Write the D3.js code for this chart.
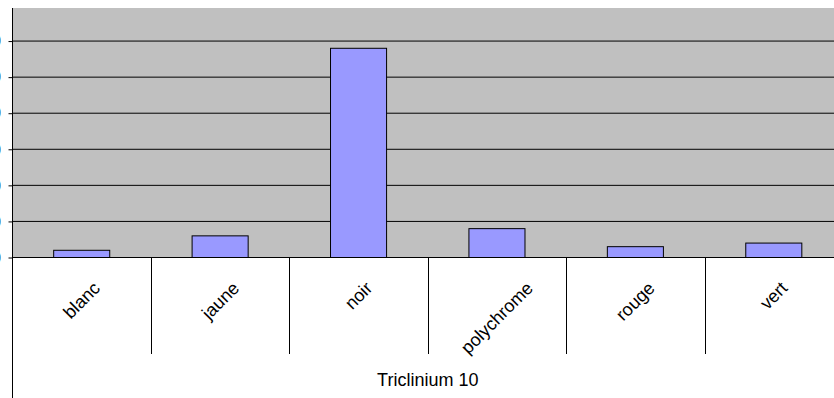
<!DOCTYPE html>
<html>
<head>
<meta charset="utf-8">
<script src="https://cdn.jsdelivr.net/npm/d3@7"></script>
<style>
  html, body { margin: 0; padding: 0; background: #fff; overflow: hidden; }
  svg { display: block; font-family: "Liberation Sans", Arial, sans-serif; }
</style>
</head>
<body>
<svg id="chart" width="834" height="398"></svg>
<script>
// ---- data ----
const categories = ["blanc", "jaune", "noir", "polychrome", "rouge", "vert"];
const values = [2, 6, 58, 8, 3, 4];
const yTicks = [0, 10, 20, 30, 40, 50, 60];
const groupLabel = "Triclinium 10";

// ---- layout ----
const W = 834, H = 398;
const plot = { left: 12.5, right: 843, top: 8, bottom: 257.5 };
const catBottom = 354;      // end of inner-level separators
const axisBottom = 398;     // end of left axis line
const fontSize = 18;

const svg = d3.select("#chart");

const x = d3.scaleBand()
  .domain(categories)
  .range([plot.left, plot.right])
  .paddingInner(0.595)
  .paddingOuter(0.2975);

const y = d3.scaleLinear()
  .domain([0, 70])
  .range([plot.bottom, 5]);

// plot background
svg.append("rect")
  .attr("x", plot.left).attr("y", plot.top)
  .attr("width", plot.right - plot.left)
  .attr("height", plot.bottom - plot.top)
  .attr("fill", "#C0C0C0");

// gridlines
svg.append("g")
  .selectAll("line")
  .data(yTicks.filter(d => d > 0))
  .join("line")
  .attr("x1", plot.left).attr("x2", plot.right)
  .attr("y1", d => y(d)).attr("y2", d => y(d))
  .attr("stroke", "#000").attr("stroke-width", 1);

// y axis (labels almost entirely outside the visible frame, as in the reference)
const yAxis = d3.axisLeft(y).tickValues(yTicks).tickSize(4).tickPadding(7.5);
const gy = svg.append("g")
  .attr("transform", `translate(${plot.left},0)`)
  .call(yAxis);
gy.select(".domain").remove();
gy.selectAll(".tick line").attr("stroke", "#000");
gy.selectAll(".tick text")
  .attr("font-size", fontSize)
  .attr("font-family", "'Liberation Sans', Arial, sans-serif")
  .attr("fill", "#000");

// bars
svg.append("g")
  .selectAll("rect")
  .data(categories.map((c, i) => ({ c, v: values[i] })))
  .join("rect")
  .attr("x", d => x(d.c))
  .attr("width", x.bandwidth())
  .attr("y", d => y(d.v))
  .attr("height", d => y(0) - y(d.v))
  .attr("fill", "#9999FF")
  .attr("stroke", "#000")
  .attr("stroke-width", 1);

// category axis line
svg.append("line")
  .attr("x1", plot.left).attr("x2", plot.right)
  .attr("y1", plot.bottom).attr("y2", plot.bottom)
  .attr("stroke", "#000");

// left axis line
svg.append("line")
  .attr("x1", plot.left).attr("x2", plot.left)
  .attr("y1", plot.top).attr("y2", axisBottom)
  .attr("stroke", "#000");

// category separators
const step = x.step();
const bounds = categories.slice(1).map(c => x(c) - x.paddingInner() * step / 2);
svg.append("g")
  .selectAll("line")
  .data(bounds)
  .join("line")
  .attr("x1", d => Math.round(d) + 0.5).attr("x2", d => Math.round(d) + 0.5)
  .attr("y1", plot.bottom).attr("y2", catBottom)
  .attr("stroke", "#000");

// rotated category labels, centred on category, top-aligned
const labelTop = 278;
const lg = svg.append("g");
categories.forEach(c => {
  const cx = x(c) + x.bandwidth() / 2;
  const t = lg.append("text")
    .attr("font-size", fontSize)
    .attr("text-anchor", "end")
    .attr("fill", "#000")
    .attr("transform", `translate(${cx},${labelTop}) rotate(-45)`)
    .text(c);
  const r = t.node().getBoundingClientRect();
  const dx = cx - (r.left + r.width / 2);
  const dy = labelTop - r.top;
  t.attr("transform", `translate(${cx + dx},${labelTop + dy}) rotate(-45)`);
});

// outer group label
svg.append("text")
  .attr("x", (plot.left + plot.right) / 2)
  .attr("y", 385.5)
  .attr("text-anchor", "middle")
  .attr("font-size", fontSize)
  .attr("fill", "#000")
  .text(groupLabel);
</script>
</body>
</html>
